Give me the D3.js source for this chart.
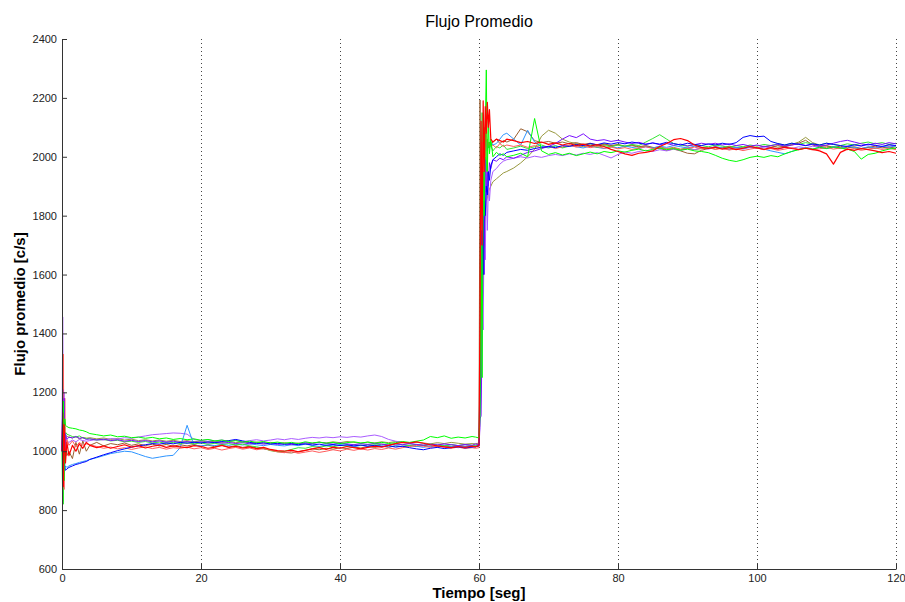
<!DOCTYPE html>
<html><head><meta charset="utf-8">
<script src="https://cdn.jsdelivr.net/npm/d3@7"></script>
<style>
html,body{margin:0;padding:0;background:#fff;}
svg{display:block;font-family:"Liberation Sans",Arial,Helvetica,sans-serif;}
</style></head>
<body><svg id="c" width="905" height="602"></svg>
<script>
// time grid (s)
const tStart = [0,0.1,0.2,0.3,0.4,0.5,0.7,1,1.5,2,2.5,3,3.5];
const tJump = [59.5,60,60.15,60.3,60.45,60.6,60.75,60.9,61.05,61.2,61.35,61.5,61.7,62,62.5,63,63.5,64];
const T = [...tStart, ...d3.range(4,60), ...tJump, ...d3.range(65,121)];

const xTicks = [0,20,40,60,80,100,120];
const yTicks = [600,800,1000,1200,1400,1600,1800,2000,2200,2400];

// series values (c/s) sampled at T
const red = [
1000,1130,880,1090,1030,960,1030,985,1020,1000,1025,1010,1030,
1020,1012,1018,1010,1016,1022,1014,1019,1011,1017,1021,1013,1018,1015,
1012,1019,1016,1010,1014,1020,1013,1017,1011,1015,1009,1013,1006,1002,
1000,1004,998,1003,1008,1012,1006,1014,1010,1016,1012,1008,1013,1017,
1014,1020,1026,1030,1028,1032,1027,1022,1018,1015,1012,1016,1013,1017,
1015,1020,1500,2120,1700,2190,1950,2170,2080,2185,2100,2160,2060,2050,2060,2055,2050,2060,
2055,2048,2052,2045,2050,2042,2047,2040,2045,2038,2043,2036,2041,2035,
2025,2018,2010,2005,2012,2015,2020,2035,2045,2058,2062,2055,2040,2032,
2028,2033,2026,2031,2024,2029,2035,2030,2025,2031,2027,2033,2028,2024,
2029,2025,2020,2010,1975,2015,2026,2022,2028,2024,2020,2014,2018,2012];

const salmon = [
1000,1050,1330,870,1180,1010,1040,1020,1035,1015,1030,1020,1025,
1022,1016,1010,1014,1008,1012,1006,1011,1015,1009,1013,1007,1012,1010,
1014,1008,1012,1006,1010,1004,1009,1013,1007,1011,1005,1009,1003,998,
995,999,993,997,1001,996,1000,1005,1001,1007,1003,1008,1004,1009,
1006,1011,1007,1012,1016,1020,1017,1013,1018,1014,1010,1014,1009,1012,
1010,1012,1240,1850,2050,1900,2100,2000,2080,2030,2050,2040,2035,2040,2030,2045,2035,2040,
2035,2040,2032,2038,2030,2036,2028,2034,2039,2033,2037,2031,2035,2029,
2033,2027,2031,2025,2029,2034,2028,2032,2026,2030,2024,2028,2033,2027,
2031,2025,2029,2023,2027,2021,2026,2030,2024,2028,2022,2026,2031,2025,
2029,2023,2027,2032,2026,2030,2024,2028,2022,2026,2030,2025,2029,2024];

const green = [
1000,830,1170,900,1110,1088,1084,1080,1078,1076,1072,1070,1066,
1060,1056,1052,1055,1049,1051,1046,1048,1044,1047,1042,1045,1040,1043,
1039,1042,1037,1040,1035,1038,1033,1036,1031,1034,1030,1033,1028,1031,
1027,1030,1026,1032,1028,1031,1027,1030,1026,1029,1032,1028,1031,1027,
1030,1026,1029,1033,1030,1034,1038,1050,1046,1052,1044,1048,1045,1050,
1048,1045,1120,1700,1250,1950,1800,2100,2295,1950,2120,2010,2060,2000,2015,2005,2010,2000,
2005,2012,2000,2130,2020,2008,2014,2006,2012,2004,2010,2016,2010,2018,
2014,2020,2016,2022,2026,2020,2025,2030,2024,2028,2022,2026,2020,2018,
2014,2005,1995,1988,1984,1990,1998,2002,1998,2004,2000,2010,2018,2024,
2030,2026,2032,2028,2034,2030,2026,2018,1992,2008,2012,2020,2026,2030];

const green2 = [
1000,1100,820,1140,1050,1065,1058,1055,1050,1048,1052,1045,1044,
1042,1038,1040,1035,1037,1032,1034,1030,1033,1028,1031,1027,1030,1026,
1029,1025,1028,1024,1027,1023,1026,1021,1024,1018,1015,1010,1002,998,
1000,1006,1012,1010,1016,1013,1018,1015,1020,1017,1022,1019,1023,1020,
1024,1021,1025,1022,1019,1023,1020,1024,1021,1018,1022,1019,1023,1020,
1020,1022,1300,1900,2150,1600,2000,2080,1950,2060,2030,2050,2040,2020,2035,2030,2040,2025,
2030,2036,2028,2034,2040,2032,2038,2030,2036,2042,2034,2040,2032,2038,
2034,2040,2036,2042,2038,2050,2062,2075,2060,2045,2040,2036,2042,2038,
2034,2040,2036,2032,2038,2034,2040,2036,2042,2038,2044,2040,2046,2042,
2048,2044,2040,2046,2042,2038,2044,2040,2046,2050,2044,2048,2042,2046];

const blue = [
1000,1150,960,1100,945,935,940,945,950,955,958,962,965,
972,980,988,995,1002,1008,1014,1018,1022,1026,1024,1028,1025,1030,
1027,1031,1028,1032,1029,1033,1036,1040,1035,1030,1026,1029,1024,1027,
1023,1026,1022,1025,1021,1024,1020,1023,1019,1022,1018,1021,1017,1020,
1016,1019,1014,1017,1012,1008,1005,1010,1013,1009,1012,1015,1011,1014,
1015,1018,1200,1500,1750,1600,1850,1800,1900,1870,1950,1920,1970,1990,2000,2010,2005,2015,
2020,2025,2022,2028,2032,2035,2031,2038,2035,2042,2038,2045,2041,2047,
2043,2048,2044,2050,2046,2042,2047,2043,2049,2045,2040,2046,2042,2038,
2044,2040,2046,2042,2048,2066,2072,2068,2070,2052,2045,2040,2046,2042,
2038,2044,2040,2046,2042,2038,2035,2041,2037,2043,2039,2035,2041,2038];

const skyBlue = [
1000,1050,930,980,940,950,945,950,955,958,962,965,968,
972,978,985,992,996,1000,998,990,982,976,980,984,986,1012,
1088,1020,1018,1022,1019,1023,1020,1024,1021,1025,1022,1019,1023,1020,
1018,1022,1019,1024,1020,1016,1021,1018,1023,1019,1015,1020,1017,1022,
1018,1014,1019,1016,1021,1017,1013,1018,1015,1020,1016,1012,1017,1015,
1018,1020,1300,1800,2050,1950,2080,2000,2050,2020,2040,2030,2050,2040,2045,2060,2075,2080,
2060,2040,2090,2050,2035,2030,2036,2032,2038,2034,2030,2036,2032,2028,
2034,2030,2036,2032,2028,2034,2030,2036,2032,2038,2034,2030,2036,2032,
2028,2034,2030,2026,2032,2028,2034,2030,2026,2020,2015,2010,2018,2026,
2030,2026,2032,2028,2034,2030,2036,2032,2028,2034,2030,2036,2032,2038];

const purple = [
1000,1210,960,1180,1000,1060,1040,1048,1045,1050,1044,1046,1040,
1042,1038,1041,1036,1039,1034,1037,1033,1036,1032,1035,1031,1034,1030,
1033,1029,1032,1028,1031,1027,1030,1026,1029,1025,1028,1024,1027,1023,
1026,1022,1025,1029,1026,1030,1027,1024,1028,1025,1022,1026,1023,1027,
1024,1021,1025,1022,1026,1023,1020,1024,1021,1025,1022,1019,1023,1020,
1025,1022,1110,1120,1400,1700,1600,1990,1880,1950,1900,1980,1960,1990,1985,1995,1990,2000,
1995,2005,2015,2020,2028,2035,2045,2060,2072,2065,2078,2060,2055,2058,
2052,2056,2050,2045,2049,2043,2047,2041,2045,2039,2043,2037,2041,2046,
2042,2046,2040,2044,2038,2042,2036,2040,2034,2038,2042,2036,2040,2044,
2038,2042,2036,2040,2046,2052,2056,2050,2044,2040,2046,2042,2048,2044];

const lightPurple = [
1000,1456,1100,1200,1030,1040,1035,1030,1038,1032,1040,1036,1034,
1036,1040,1038,1043,1041,1046,1044,1048,1052,1056,1058,1060,1062,1061,
1058,1040,1036,1039,1035,1038,1034,1037,1033,1036,1039,1035,1038,1042,
1039,1043,1040,1044,1047,1045,1048,1046,1049,1047,1050,1048,1052,1055,
1050,1040,1034,1030,1026,1022,1025,1021,1024,1020,1023,1019,1022,1018,
1020,1022,1080,1250,1500,1412,1800,1650,1950,1750,1900,1850,1920,1950,1960,1975,1985,1990,
1995,2000,1996,2002,1998,2004,2008,2004,2010,2006,2012,2008,2014,2005,
1996,2008,2016,2012,2018,2022,2018,2024,2020,2026,2022,2028,2024,2030,
2026,2032,2028,2024,2030,2026,2032,2028,2034,2030,2026,2032,2028,2034,
2030,2036,2032,2028,2034,2030,2036,2040,2036,2042,2038,2034,2040,2036];

const brown = [
1000,1060,980,1050,1000,1030,985,1000,975,1030,990,1035,1000,
1020,1030,1018,1026,1022,1028,1020,1025,1019,1024,1018,1023,1017,1022,
1018,1023,1016,1021,1015,1020,1014,1019,1013,1017,1011,1008,1004,999,
996,994,999,1003,1008,1005,1010,1007,1012,1009,1014,1011,1016,1013,
1017,1014,1018,1015,1019,1016,1020,1017,1014,1018,1015,1019,1016,1018,
1015,1020,2193,1700,2000,1900,2050,1980,2060,2040,2030,2050,2040,2050,2060,2045,2055,2050,
2060,2095,2085,2055,2048,2052,2046,2050,2044,2048,2042,2046,2040,2044,
2038,2042,2036,2040,2034,2038,2032,2028,2022,2026,2020,2012,2010,2022,
2028,2034,2030,2036,2032,2028,2034,2030,2036,2032,2038,2034,2040,2046,
2056,2040,2034,2038,2032,2036,2030,2034,2028,2032,2036,2030,2034,2028];

const olive = [
1000,1080,990,1060,1020,1055,1050,1048,1045,1050,1042,1047,1044,
1046,1042,1045,1040,1043,1038,1041,1036,1039,1035,1038,1034,1037,1033,
1036,1032,1035,1031,1034,1030,1033,1029,1032,1028,1031,1027,1030,1026,
1029,1025,1028,1024,1027,1031,1028,1032,1029,1033,1030,1027,1031,1028,
1032,1029,1033,1030,1027,1031,1028,1025,1029,1026,1030,1027,1024,1026,
1025,1028,1250,1600,1450,1700,1750,1800,1850,1860,1880,1890,1900,1915,1925,1935,1945,1950,
1962,1979,2000,2025,2070,2090,2080,2060,2050,2045,2040,2044,2038,2042,
2036,2040,2034,2038,2032,2036,2030,2034,2028,2032,2026,2030,2024,2028,
2032,2026,2030,2034,2028,2032,2036,2030,2034,2038,2032,2036,2042,2050,
2066,2048,2040,2036,2032,2028,2034,2030,2026,2032,2028,2034,2030,2036];

const seriesNames = ["olive","brown","lightPurple","skyBlue","green2","salmon","purple","blue","green","red"];
const seriesValues = [olive,brown,lightPurple,skyBlue,green2,salmon,purple,blue,green,red];
const seriesColors = ["#999940","#9a6132","#aa5cff","#2e95ff","#33e633","#ff5c5c","#7a10ff","#0000ff","#00ff00","#ff0000"];

const svg = d3.select("#c");
const L=62, R=896, TOP=39, B=569;
const x = d3.scaleLinear().domain([0,120]).range([L,R]);
const y = d3.scaleLinear().domain([600,2400]).range([B,TOP]);

// vertical dotted grid
svg.append("g").selectAll("line").data(xTicks.filter(d=>d>0)).join("line")
  .attr("x1",d=>Math.round(x(d))+0.5).attr("x2",d=>Math.round(x(d))+0.5)
  .attr("y1",TOP).attr("y2",B)
  .attr("stroke","#444").attr("stroke-width",1).attr("stroke-dasharray","1,3");

// lines
const line = d3.line().x((d,i)=>x(T[i])).y(d=>y(d));
const g = svg.append("g");
seriesValues.forEach((vals,k)=>{
  const n = Math.min(vals.length,T.length);
  g.append("path").datum(vals.slice(0,n))
   .attr("fill","none").attr("stroke",seriesColors[k])
   .attr("stroke-width", seriesNames[k]==="red"?1.2:1)
   .attr("stroke-linejoin","round")
   .attr("d",line);
});

// axes
const ax = svg.append("g").attr("transform",`translate(0,${B})`)
  .call(d3.axisBottom(x).tickValues(xTicks).tickSizeInner(-5).tickSizeOuter(0).tickPadding(5).tickFormat(d3.format("d")));
const ay = svg.append("g").attr("transform",`translate(${L},0)`)
  .call(d3.axisLeft(y).tickValues(yTicks).tickSizeInner(-5).tickSizeOuter(0).tickPadding(5).tickFormat(d3.format("d")));
[ax,ay].forEach(a=>{
  a.select(".domain").attr("stroke","#333");
  a.selectAll(".tick line").attr("stroke","#333");
  a.selectAll("text").attr("fill","#222").style("font-size","11px").style("font-family","'Liberation Sans',Arial,sans-serif");
});

// texts
svg.append("text").attr("x",(L+R)/2).attr("y",27).attr("text-anchor","middle")
  .style("font-size","16px").attr("fill","#000").text("Flujo Promedio");
svg.append("text").attr("x",(L+R)/2).attr("y",598).attr("text-anchor","middle")
  .style("font-size","15px").style("font-weight","bold").attr("fill","#000").text("Tiempo [seg]");
svg.append("text").attr("transform",`translate(25,${(TOP+B)/2}) rotate(-90)`).attr("text-anchor","middle")
  .style("font-size","15px").style("font-weight","bold").attr("fill","#000").text("Flujo promedio [c/s]");
</script></body></html>
